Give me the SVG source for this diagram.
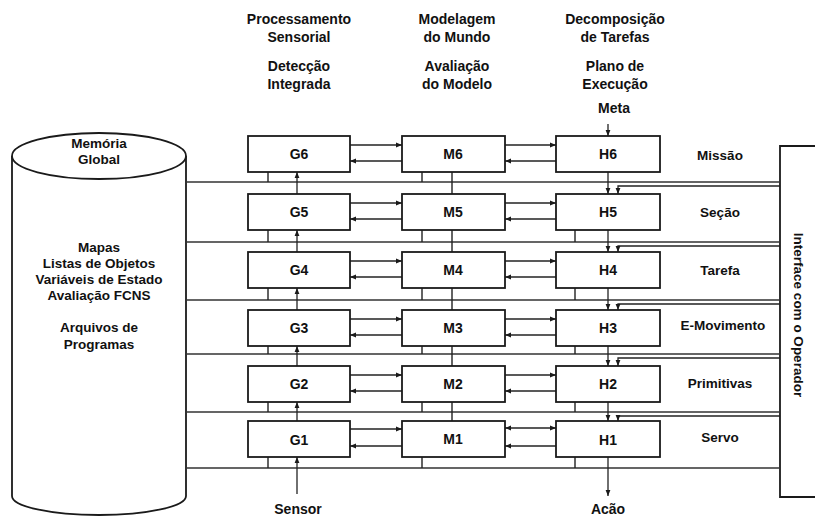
<svg xmlns="http://www.w3.org/2000/svg" width="815" height="517" viewBox="0 0 815 517">
<defs>
<marker id="ah" viewBox="0 0 10 10" refX="10" refY="5" markerWidth="6" markerHeight="6" orient="auto-start-reverse" markerUnits="userSpaceOnUse">
<path d="M0,1 L10,5 L0,9 z" fill="#1a1a1a"/>
</marker>
</defs>
<style>
text{font-family:"Liberation Sans",Arial,Helvetica,sans-serif;font-weight:bold;fill:#111;text-anchor:middle}
.hd{font-size:14px}
.cy{font-size:13.5px}
.bx{font-size:14px}
.lb{font-size:13.5px}
.box{fill:#fff;stroke:#1a1a1a;stroke-width:1.8}
.ln{fill:none;stroke:#222;stroke-width:1.4}
.bus{fill:none;stroke:#333;stroke-width:1.6}
.ar{fill:none;stroke:#222;stroke-width:1.3;marker-end:url(#ah)}
.ar2{fill:none;stroke:#222;stroke-width:1.3;marker-end:url(#ah);marker-start:url(#ah)}
</style>
<rect width="815" height="517" fill="#fff"/>

<g id="headers">
<text class="hd" x="299" y="24">Processamento</text>
<text class="hd" x="299" y="42">Sensorial</text>
<text class="hd" x="299" y="71">Detecção</text>
<text class="hd" x="299" y="89">Integrada</text>
<text class="hd" x="457" y="24">Modelagem</text>
<text class="hd" x="457" y="42">do Mundo</text>
<text class="hd" x="457" y="71">Avaliação</text>
<text class="hd" x="457" y="89">do Modelo</text>
<text class="hd" x="615" y="24">Decomposição</text>
<text class="hd" x="615" y="42">de Tarefas</text>
<text class="hd" x="615" y="71">Plano de</text>
<text class="hd" x="615" y="89">Execução</text>
<text class="hd" x="614" y="113">Meta</text>
<text class="hd" x="298" y="514">Sensor</text>
<text class="hd" x="608" y="514">Acão</text>
</g>

<g id="memoria">
<path class="box" d="M12,156 L12,496 A87,19 0 0 0 186,496 L186,156"/>
<ellipse class="box" cx="99" cy="156" rx="87" ry="23"/>
<text class="cy" x="99" y="148">Memória</text>
<text class="cy" x="99" y="164">Global</text>
<text class="cy" x="99" y="252">Mapas</text>
<text class="cy" x="99" y="268">Listas de Objetos</text>
<text class="cy" x="99" y="284">Variáveis de Estado</text>
<text class="cy" x="99" y="300">Avaliação FCNS</text>
<text class="cy" x="99" y="332">Arquivos de</text>
<text class="cy" x="99" y="349">Programas</text>
</g>

<g id="interface">
<path class="box" d="M818,146 L780,146 L780,497 L818,497"/>
<text class="lb" x="794" y="315" transform="rotate(90 794 315)">Interface com o Operador</text>
</g>

<g id="connectors">
<path class="bus" d="M186,182H780 M186,242H780 M186,300H780 M186,354H780 M186,412H780 M186,468H780"/>
<path class="ln" d="M268,172V182 M422,172V182 M268,230V242 M422,230V242 M575,230V242 M268,288V300 M422,288V300 M575,288V300 M268,346V354 M422,346V354 M575,346V354 M268,402V412 M422,402V412 M575,402V412 M268,457V468 M422,457V468 M575,457V468"/>
<path class="ln" d="M452,172V194 M452,230V252 M452,288V310 M452,346V366 M452,402V421"/>
<path class="ar" d="M297,194V172"/>
<path class="ar" d="M297,252V230"/>
<path class="ar" d="M297,310V288"/>
<path class="ar" d="M297,366V346"/>
<path class="ar" d="M297,421V402"/>
<path class="ar" d="M297,494V457"/>
<path class="ar" d="M608,124V136"/>
<path class="ar" d="M608,172V194"/>
<path class="ar" d="M608,230V252"/>
<path class="ar" d="M608,288V310"/>
<path class="ar" d="M608,346V366"/>
<path class="ar" d="M608,402V421"/>
<path class="ar" d="M608,457V496"/>
<path class="ar" d="M780,186H618V194"/>
<path class="ar" d="M780,246H618V252"/>
<path class="ar" d="M780,304H618V310"/>
<path class="ar" d="M780,358H618V366"/>
<path class="ar" d="M780,416H618V421"/>
<path class="ar" d="M350,145H402"/><path class="ar" d="M402,161H350"/>
<path class="ar" d="M505,145H556"/><path class="ar" d="M556,161H505"/>
<path class="ar" d="M350,203H402"/><path class="ar" d="M402,219H350"/>
<path class="ar" d="M505,203H556"/><path class="ar" d="M556,219H505"/>
<path class="ar" d="M350,261H402"/><path class="ar" d="M402,277H350"/>
<path class="ar" d="M505,261H556"/><path class="ar" d="M556,277H505"/>
<path class="ar" d="M350,319H402"/><path class="ar" d="M402,335H350"/>
<path class="ar" d="M505,319H556"/><path class="ar" d="M556,335H505"/>
<path class="ar" d="M350,375H402"/><path class="ar" d="M402,391H350"/>
<path class="ar" d="M505,375H556"/><path class="ar" d="M556,391H505"/>
<path class="ar" d="M350,429H402"/><path class="ar" d="M402,446H350"/>
<path class="ar2" d="M505,428H556"/><path class="ar" d="M556,446H505"/>
</g>

<g id="G6"><rect class="box" x="248" y="136" width="102" height="36"/><text class="bx" x="299" y="159">G6</text></g>
<g id="M6"><rect class="box" x="402" y="136" width="103" height="36"/><text class="bx" x="453" y="159">M6</text></g>
<g id="H6"><rect class="box" x="556" y="136" width="104" height="36"/><text class="bx" x="608" y="159">H6</text></g>
<g id="G5"><rect class="box" x="248" y="194" width="102" height="36"/><text class="bx" x="299" y="217">G5</text></g>
<g id="M5"><rect class="box" x="402" y="194" width="103" height="36"/><text class="bx" x="453" y="217">M5</text></g>
<g id="H5"><rect class="box" x="556" y="194" width="104" height="36"/><text class="bx" x="608" y="217">H5</text></g>
<g id="G4"><rect class="box" x="248" y="252" width="102" height="36"/><text class="bx" x="299" y="275">G4</text></g>
<g id="M4"><rect class="box" x="402" y="252" width="103" height="36"/><text class="bx" x="453" y="275">M4</text></g>
<g id="H4"><rect class="box" x="556" y="252" width="104" height="36"/><text class="bx" x="608" y="275">H4</text></g>
<g id="G3"><rect class="box" x="248" y="310" width="102" height="36"/><text class="bx" x="299" y="333">G3</text></g>
<g id="M3"><rect class="box" x="402" y="310" width="103" height="36"/><text class="bx" x="453" y="333">M3</text></g>
<g id="H3"><rect class="box" x="556" y="310" width="104" height="36"/><text class="bx" x="608" y="333">H3</text></g>
<g id="G2"><rect class="box" x="248" y="366" width="102" height="36"/><text class="bx" x="299" y="389">G2</text></g>
<g id="M2"><rect class="box" x="402" y="366" width="103" height="36"/><text class="bx" x="453" y="389">M2</text></g>
<g id="H2"><rect class="box" x="556" y="366" width="104" height="36"/><text class="bx" x="608" y="389">H2</text></g>
<g id="G1"><rect class="box" x="248" y="421" width="102" height="36"/><text class="bx" x="299" y="445">G1</text></g>
<g id="M1"><rect class="box" x="402" y="421" width="103" height="36"/><text class="bx" x="453" y="444">M1</text></g>
<g id="H1"><rect class="box" x="556" y="421" width="104" height="36"/><text class="bx" x="608" y="445">H1</text></g>

<g id="levels">
<text class="lb" x="720" y="160">Missão</text>
<text class="lb" x="720" y="217">Seção</text>
<text class="lb" x="720" y="275">Tarefa</text>
<text class="lb" x="723" y="330">E-Movimento</text>
<text class="lb" x="720" y="388">Primitivas</text>
<text class="lb" x="720" y="442">Servo</text>
</g>
</svg>
